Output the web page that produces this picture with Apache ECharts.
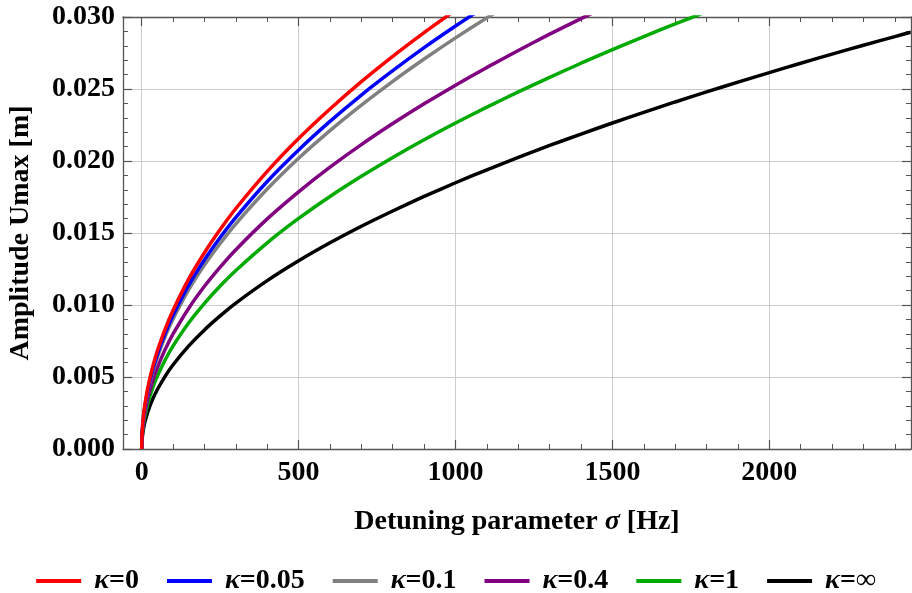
<!DOCTYPE html>
<html>
<head>
<meta charset="utf-8">
<script src="https://cdn.jsdelivr.net/npm/echarts@6/dist/echarts.min.js"></script>
<style>
  html, body { margin: 0; padding: 0; background: #fff; }
  #chart { width: 912px; height: 593px; }
</style>
</head>
<body>
<div id="chart"></div>
<script>
// Detuning parameter sigma [Hz] at which the amplitude is sampled
const sigma = [0, 1, 3, 6, 10, 20, 35, 50, 75, 100, 150, 200, 250, 300, 400, 500, 600, 700, 800, 900,
  1000, 1100, 1200, 1300, 1400, 1500, 1600, 1700, 1800, 1900, 2000, 2100, 2200, 2300, 2400, 2450];

// Amplitude Umax [m] for each kappa (curves run out through the top of the frame)
const uKappa0 = [0, 0.000964, 0.00167, 0.00236, 0.00305, 0.00431, 0.00570, 0.00682, 0.00835, 0.00964,
  0.01181, 0.01363, 0.01524, 0.01670, 0.01928, 0.02156, 0.02361, 0.02551, 0.02727, 0.02892, 0.03048];
const uKappa005 = [0, 0.000929, 0.00161, 0.00228, 0.00294, 0.00415, 0.00550, 0.00657, 0.00804, 0.00929,
  0.01138, 0.01314, 0.01469, 0.01609, 0.01858, 0.02077, 0.02275, 0.02458, 0.02627, 0.02787, 0.02937, 0.03081];
const uKappa01 = [0, 0.000903, 0.00156, 0.00221, 0.00285, 0.00404, 0.00534, 0.00638, 0.00782, 0.00903,
  0.01106, 0.01277, 0.01427, 0.01564, 0.01805, 0.02019, 0.02211, 0.02388, 0.02553, 0.02708, 0.02855,
  0.02994, 0.03127];
const uKappa04 = [0, 0.000799, 0.00138, 0.00196, 0.00253, 0.00357, 0.00473, 0.00565, 0.00692, 0.00799,
  0.00978, 0.01130, 0.01263, 0.01384, 0.01598, 0.01786, 0.01957, 0.02114, 0.02260, 0.02397, 0.02526,
  0.02650, 0.02767, 0.02881, 0.02989, 0.03094];
const uKappa1 = [0, 0.000716, 0.00124, 0.00175, 0.00226, 0.00320, 0.00424, 0.00506, 0.00620, 0.00716,
  0.00877, 0.01012, 0.01132, 0.01240, 0.01432, 0.01601, 0.01754, 0.01894, 0.02025, 0.02148, 0.02264,
  0.02374, 0.02480, 0.02581, 0.02679, 0.02773, 0.02864, 0.02952, 0.03037];
const uKappaInf = [0, 0.000585, 0.00101, 0.00143, 0.00185, 0.00261, 0.00346, 0.00413, 0.00506, 0.00585,
  0.00716, 0.00827, 0.00924, 0.01013, 0.01169, 0.01307, 0.01432, 0.01547, 0.01653, 0.01754, 0.01849,
  0.01939, 0.02025, 0.02108, 0.02187, 0.02264, 0.02338, 0.02410, 0.02480, 0.02548, 0.02614, 0.02679,
  0.02742, 0.02804, 0.02864, 0.02894];

const seriesNames = ['0', '0.05', '0.1', '0.4', '1', '\u221e'];
const seriesValues = [uKappa0, uKappa005, uKappa01, uKappa04, uKappa1, uKappaInf];
const seriesColors = ['#ff0000', '#0000ff', '#808080', '#800080', '#00aa00', '#000000'];

// Axis ticks
const xMajorTicks = [0, 500, 1000, 1500, 2000];
const xMinorTicks = [0, 100, 200, 300, 400, 500, 600, 700, 800, 900, 1000, 1100, 1200, 1300, 1400,
  1500, 1600, 1700, 1800, 1900, 2000, 2100, 2200, 2300, 2400];
const xRange = [-59.6, 2451.5];
const yRange = [0, 0.030];
const yStep = 0.005;

const FONT = '"Liberation Serif", "Times New Roman", serif';
const FRAME = '#555555';
const LABEL_SIZE = 28;
const LEGEND_SIZE = 28;

const chart = echarts.init(document.getElementById('chart'), null, { renderer: 'canvas' });

function xAxisDef(opts) {
  return Object.assign({
    type: 'value',
    min: xRange[0],
    max: xRange[1],
    gridIndex: 0,
    axisLine: { show: false, onZero: false },
    axisTick: { show: false },
    axisLabel: { show: false },
    splitLine: { show: false },
    minorTick: { show: false },
    minorSplitLine: { show: false }
  }, opts);
}

const option = {
  animation: false,
  backgroundColor: '#ffffff',
  textStyle: { fontFamily: FONT },
  grid: { left: 123, top: 17, right: 1, bottom: 144, containLabel: false, outerBoundsMode: 'none' },
  legend: {
    data: seriesNames.map(n => '\u03ba=' + n),
    left: 'center',
    top: 562,
    icon: 'rect',
    itemWidth: 45,
    itemHeight: 4,
    itemGap: 28,
    textStyle: {
      fontFamily: FONT,
      fontSize: LEGEND_SIZE,
      fontWeight: 'bold',
      color: '#000',
      padding: [0, 0, 0, 8],
      rich: {
        k: { fontFamily: FONT, fontSize: LEGEND_SIZE, fontWeight: 'bold', fontStyle: 'italic', color: '#000' },
        v: { fontFamily: FONT, fontSize: LEGEND_SIZE, fontWeight: 'bold', color: '#000' }
      }
    },
    formatter: name => '{k|\u03ba}{v|' + name.slice(1) + '}'
  },
  xAxis: [
    // bottom: minor ticks, labels and title
    xAxisDef({
      position: 'bottom',
      axisLine: { show: true, onZero: false, lineStyle: { color: FRAME, width: 1.3 } },
      axisTick: { show: true, inside: true, length: 5, customValues: xMinorTicks, lineStyle: { color: FRAME, width: 1 } },
      axisLabel: {
        show: true, customValues: xMajorTicks, margin: 10, formatter: v => String(v),
        fontFamily: FONT, fontSize: LABEL_SIZE, fontWeight: 'bold', color: '#000'
      },
      name: 'Detuning parameter {s|\u03c3} [Hz]',
      nameLocation: 'middle',
      nameGap: 59,
      nameTextStyle: {
        fontFamily: FONT, fontSize: LABEL_SIZE, fontWeight: 'bold', color: '#000',
        rich: { s: { fontFamily: FONT, fontSize: LABEL_SIZE, fontWeight: 'bold', fontStyle: 'italic', color: '#000' } }
      }
    }),
    // bottom: major ticks and vertical grid lines
    xAxisDef({
      position: 'bottom',
      axisTick: { show: true, inside: true, length: 9, customValues: xMajorTicks, lineStyle: { color: FRAME, width: 1.2 } },
      splitLine: { show: true, lineStyle: { color: '#cccccc', width: 1 } }
    }),
    // top frame: minor ticks
    xAxisDef({
      position: 'top',
      axisLine: { show: true, onZero: false, lineStyle: { color: FRAME, width: 1.3 } },
      axisTick: { show: true, inside: true, length: 5, customValues: xMinorTicks, lineStyle: { color: FRAME, width: 1 } }
    }),
    // top frame: major ticks
    xAxisDef({
      position: 'top',
      axisTick: { show: true, inside: true, length: 9, customValues: xMajorTicks, lineStyle: { color: FRAME, width: 1.2 } }
    })
  ],
  yAxis: [
    {
      type: 'value',
      position: 'left',
      min: yRange[0],
      max: yRange[1],
      interval: yStep,
      axisLine: { show: true, onZero: false, lineStyle: { color: FRAME, width: 1.3 } },
      axisTick: { show: true, inside: true, length: 9, lineStyle: { color: FRAME, width: 1.2 } },
      minorTick: { show: true, splitNumber: 5, length: 5, lineStyle: { color: FRAME, width: 1 } },
      axisLabel: {
        show: true, margin: 8, formatter: v => v.toFixed(3),
        fontFamily: FONT, fontSize: LABEL_SIZE, fontWeight: 'bold', color: '#000'
      },
      splitLine: { show: true, lineStyle: { color: '#cccccc', width: 1 } },
      name: 'Amplitude Umax [m]',
      nameLocation: 'middle',
      nameGap: 88,
      nameRotate: 90,
      nameTextStyle: { fontFamily: FONT, fontSize: LABEL_SIZE, fontWeight: 'bold', color: '#000' }
    },
    {
      type: 'value',
      position: 'right',
      min: yRange[0],
      max: yRange[1],
      interval: yStep,
      axisLine: { show: true, onZero: false, lineStyle: { color: FRAME, width: 1.3 } },
      axisTick: { show: true, inside: true, length: 9, lineStyle: { color: FRAME, width: 1.2 } },
      minorTick: { show: true, splitNumber: 5, length: 5, lineStyle: { color: FRAME, width: 1 } },
      axisLabel: { show: false },
      splitLine: { show: false }
    }
  ],
  series: seriesValues.map((vals, i) => ({
    name: '\u03ba=' + seriesNames[i],
    type: 'line',
    xAxisIndex: 0,
    yAxisIndex: 0,
    data: vals.map((u, j) => [sigma[j], u]),
    showSymbol: false,
    symbol: 'none',
    smooth: 0.2,
    clip: true,
    z: 10 - i,
    lineStyle: { color: seriesColors[i], width: 3.5 },
    itemStyle: { color: seriesColors[i] }
  }))
};

chart.setOption(option);
</script>
</body>
</html>
